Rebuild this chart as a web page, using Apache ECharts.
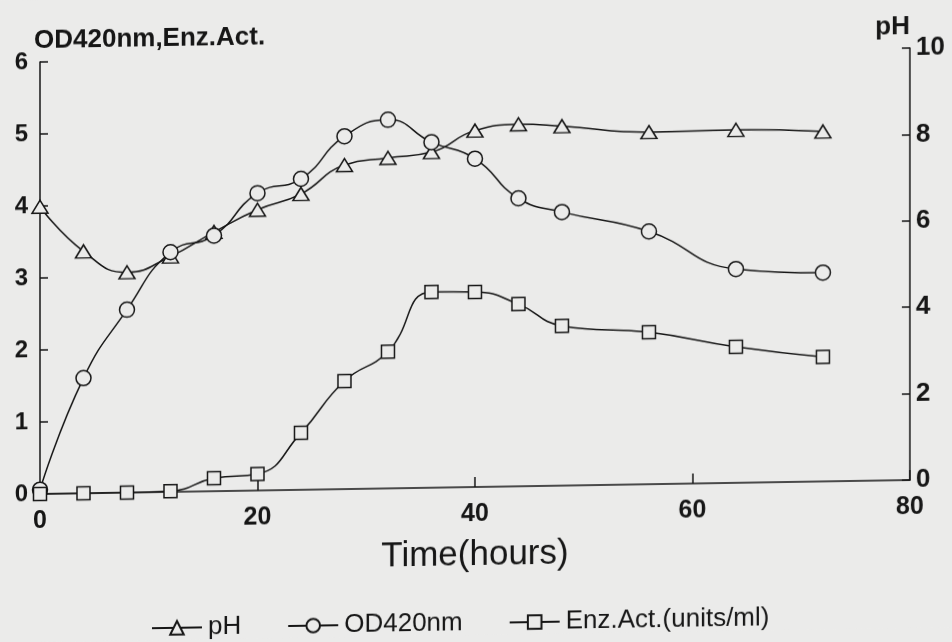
<!DOCTYPE html>
<html>
<head>
<meta charset="utf-8">
<script src="https://cdn.jsdelivr.net/npm/echarts@6/dist/echarts.min.js"></script>
<style>
  html, body { margin: 0; padding: 0; background: #ebebea; overflow: hidden; }
  /* the printed figure runs slightly uphill to the right */
  #chart { width: 952px; height: 642px; transform: skewY(-0.92deg); transform-origin: 40px 494px; }
</style>
</head>
<body>
<div id="chart"></div>
<script>
// Fermentation time course: sampling times (hours)
const timeHours = [0, 4, 8, 12, 16, 20, 24, 28, 32, 36, 40, 44, 48, 56, 64, 72];
// culture pH (right axis)
const pHValues = [6.65, 5.6, 5.1, 5.45, 6.0, 6.5, 6.85, 7.5, 7.65, 7.77, 8.25, 8.38, 8.32, 8.15, 8.17, 8.1];
// cell growth, OD at 420 nm (left axis)
const od420 = [0.06, 1.6, 2.54, 3.33, 3.55, 4.13, 4.32, 4.9, 5.12, 4.8, 4.56, 4.0, 3.8, 3.51, 2.97, 2.9];
// enzyme activity, units/ml (left axis)
const enzAct = [0, 0, 0, 0.01, 0.18, 0.23, 0.79, 1.5, 1.9, 2.72, 2.71, 2.53, 2.22, 2.11, 1.89, 1.73];

const seriesNames = ['pH', 'OD420nm', 'Enz.Act.(units/ml)'];
const xTicks = { min: 0, max: 80, step: 20 };
const leftTicks = { min: 0, max: 6, step: 1 };
const rightTicks = { min: 0, max: 10, step: 2 };

const INK = '#161616';
const PAPER = '#ebebea';
const FONT = '"Liberation Sans", Arial, Helvetica, sans-serif';

const pairs = (ys) => timeHours.map((t, i) => [t, ys[i]]);

const lineSeries = (name, ys, symbol, size, yAxisIndex) => ({
  name, type: 'line', yAxisIndex, data: pairs(ys),
  smooth: 0.5,
  symbol, symbolSize: size, showAllSymbol: true,
  lineStyle: { color: INK, width: 1.5 },
  itemStyle: { color: PAPER, borderColor: INK, borderWidth: 1.5 },
  emphasis: { disabled: true },
  animation: false
});

const chart = echarts.init(document.getElementById('chart'), null, { renderer: 'canvas' });
chart.setOption({
  backgroundColor: PAPER,
  animation: false,
  grid: { left: 40, right: 42, top: 62, bottom: 148, containLabel: false },
  legend: {
    data: seriesNames,
    left: 146, top: 612,
    itemWidth: 50, itemHeight: 17, itemGap: 46,
    textStyle: { color: INK, fontSize: 26, fontFamily: FONT, padding: [0, 0, 0, 1] },
    inactiveColor: INK
  },
  xAxis: {
    type: 'value', min: xTicks.min, max: xTicks.max, interval: xTicks.step,
    name: 'Time(hours)', nameLocation: 'middle', nameGap: 51,
    nameTextStyle: { color: INK, fontSize: 35, fontFamily: FONT },
    axisLine: { lineStyle: { color: INK, width: 1.5 } },
    axisTick: { inside: true, length: 10, lineStyle: { color: INK, width: 1.5 } },
    axisLabel: { color: INK, fontSize: 25, fontFamily: FONT, fontWeight: 'bold', margin: 15 },
    splitLine: { show: false }
  },
  yAxis: [
    {
      type: 'value', position: 'left',
      min: leftTicks.min, max: leftTicks.max, interval: leftTicks.step,
      name: 'OD420nm,Enz.Act.', nameLocation: 'end', nameGap: 8,
      nameTextStyle: { color: INK, fontSize: 26, fontFamily: FONT, fontWeight: 'bold', align: 'left', padding: [0, 0, 0, -6] },
      axisLine: { show: true, lineStyle: { color: INK, width: 1.5 } },
      axisTick: { show: true, inside: true, length: 8, lineStyle: { color: INK, width: 1.5 } },
      axisLabel: { color: INK, fontSize: 24, fontFamily: FONT, fontWeight: 'bold', margin: 12 },
      splitLine: { show: false }
    },
    {
      type: 'value', position: 'right',
      min: rightTicks.min, max: rightTicks.max, interval: rightTicks.step,
      name: 'pH', nameLocation: 'end', nameGap: 8,
      nameTextStyle: { color: INK, fontSize: 26, fontFamily: FONT, fontWeight: 'bold', align: 'right' },
      axisLine: { show: true, lineStyle: { color: INK, width: 1.5 } },
      axisTick: { show: true, inside: true, length: 8, lineStyle: { color: INK, width: 1.5 } },
      axisLabel: { color: INK, fontSize: 26, fontFamily: FONT, fontWeight: 'bold', margin: 6 },
      splitLine: { show: false }
    }
  ],
  series: [
    lineSeries(seriesNames[0], pHValues, 'triangle', [16, 13], 1),
    lineSeries(seriesNames[1], od420, 'circle', 15, 0),
    lineSeries(seriesNames[2], enzAct, 'rect', 13, 0)
  ]
});
</script>
</body>
</html>
